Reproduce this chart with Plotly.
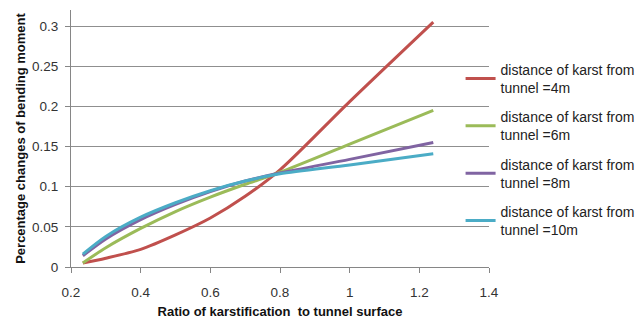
import plotly.graph_objects as go

# Ratio of karstification to tunnel surface
ratio = [0.234, 0.3, 0.4, 0.5, 0.6, 0.7, 0.8, 1.0, 1.24]

# Percentage changes of bending moment for each karst distance
d4m = [0.005, 0.011, 0.022, 0.040, 0.061, 0.088, 0.121, 0.206, 0.305]
d6m = [0.005, 0.024, 0.048, 0.069, 0.087, 0.103, 0.118, 0.153, 0.195]
d8m = [0.014, 0.035, 0.059, 0.078, 0.094, 0.107, 0.117, 0.134, 0.155]
d10m = [0.016, 0.038, 0.062, 0.080, 0.095, 0.107, 0.116, 0.127, 0.141]

names = [
    "distance of karst from<br>tunnel =4m",
    "distance of karst from<br>tunnel =6m",
    "distance of karst from<br>tunnel =8m",
    "distance of karst from<br>tunnel =10m",
]
colors = ["#C0504D", "#9BBB59", "#8064A2", "#4BACC6"]
series = [d4m, d6m, d8m, d10m]

x_ticks = [0.2, 0.4, 0.6, 0.8, 1.0, 1.2, 1.4]
x_tick_text = ["0.2", "0.4", "0.6", "0.8", "1", "1.2", "1.4"]
y_ticks = [0, 0.05, 0.1, 0.15, 0.2, 0.25, 0.3]
y_tick_text = ["0", "0.05", "0.1", "0.15", "0.2", "0.25", "0.3"]

fig = go.Figure()
for i, (name, col, vals) in enumerate(zip(names, colors, series)):
    fig.add_trace(go.Scatter(
        x=ratio, y=vals, mode="lines", name=name,
        legendgroup=f"g{i}",
        line=dict(color=col, width=3, shape="spline", smoothing=0.8),
    ))

font = "Liberation Sans, Arial, sans-serif"
fig.update_layout(
    width=638, height=320,
    margin=dict(l=71, r=149, t=10, b=53, autoexpand=False),
    paper_bgcolor="white", plot_bgcolor="white",
    font=dict(family=font, size=13, color="#333333"),
    showlegend=True,
    legend=dict(
        x=0.932, xanchor="left", y=0.83, yanchor="top",
        font=dict(size=14, color="#222222"),
        tracegroupgap=8, itemwidth=30,
        bgcolor="rgba(0,0,0,0)",
    ),
    xaxis=dict(
        range=[0.2, 1.4], tickvals=x_ticks, ticktext=x_tick_text,
        showgrid=False, zeroline=False,
        showline=True, linecolor="#868686", linewidth=1,
        ticks="outside", ticklen=5, tickcolor="#868686",
        ticklabelstandoff=8,
        tickfont=dict(size=13.5, color="#333333"),
        title=dict(text="<b>Ratio of karstification  to tunnel surface</b>",
                   font=dict(size=13, color="#111111"), standoff=7),
    ),
    yaxis=dict(
        range=[0, 0.32], tickvals=y_ticks, ticktext=y_tick_text,
        showgrid=True, gridcolor="#8f8f8f", gridwidth=1,
        zeroline=False,
        showline=True, linecolor="#868686", linewidth=1,
        ticks="outside", ticklen=5, tickcolor="#868686",
        ticklabelstandoff=4,
        tickfont=dict(size=13.5, color="#333333"),
        title=dict(text="<b>Percentage changes of bending moment</b>",
                   font=dict(size=13, color="#111111"), standoff=3),
    ),
)

fig.write_html("out.html")
